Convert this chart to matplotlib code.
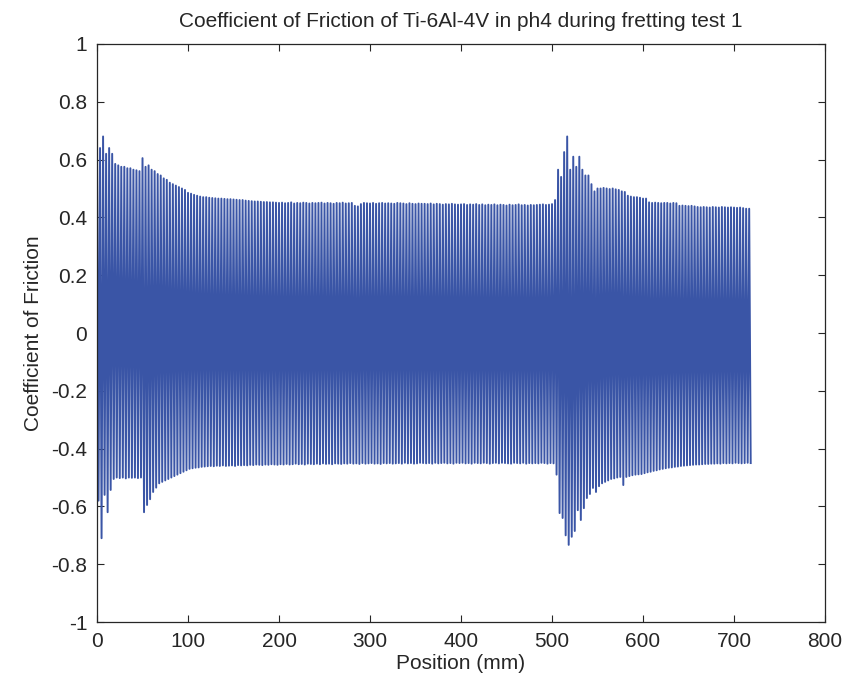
import matplotlib
matplotlib.use("Agg")
import matplotlib.pyplot as plt
from matplotlib.ticker import FormatStrFormatter
import numpy as np

# one fretting cycle every 10/3 mm: peak friction on the forward stroke,
# trough on the return stroke
cycle_pitch = 10.0 / 3.0

peak_cof = [
    0.67, 0.64, 0.68, 0.62, 0.64, 0.62, 0.585, 0.58, 0.575, 0.575, 0.57, 0.57,
    0.565, 0.563, 0.56, 0.605, 0.575, 0.58, 0.565, 0.56, 0.55, 0.545, 0.535, 0.53,
    0.52, 0.515, 0.51, 0.505, 0.5, 0.495, 0.485, 0.482, 0.478, 0.475, 0.472, 0.47,
    0.47, 0.468, 0.467, 0.466, 0.465, 0.465, 0.464, 0.463, 0.463, 0.462, 0.461, 0.46,
    0.46, 0.458, 0.457, 0.456, 0.455, 0.455, 0.454, 0.453, 0.453, 0.452, 0.452, 0.451,
    0.45, 0.451, 0.449, 0.45, 0.452, 0.448, 0.45, 0.449, 0.451, 0.45, 0.448, 0.45,
    0.449, 0.45, 0.451, 0.448, 0.45, 0.449, 0.447, 0.45, 0.449, 0.451, 0.448, 0.449,
    0.45, 0.44, 0.438, 0.446, 0.45, 0.449, 0.448, 0.45, 0.447, 0.449, 0.45, 0.448,
    0.449, 0.448, 0.447, 0.45, 0.449, 0.448, 0.446, 0.449, 0.447, 0.446, 0.448, 0.447,
    0.447, 0.446, 0.448, 0.445, 0.447, 0.446, 0.444, 0.446, 0.445, 0.447, 0.445, 0.444,
    0.445, 0.446, 0.443, 0.445, 0.444, 0.446, 0.443, 0.445, 0.442, 0.444, 0.443, 0.445,
    0.442, 0.444, 0.443, 0.441, 0.444, 0.442, 0.443, 0.445, 0.442, 0.443, 0.441, 0.443,
    0.442, 0.443, 0.444, 0.445, 0.443, 0.444, 0.446, 0.46, 0.565, 0.54, 0.626, 0.68,
    0.565, 0.61, 0.575, 0.61, 0.565, 0.545, 0.545, 0.515, 0.49, 0.50, 0.50, 0.502,
    0.50, 0.498, 0.50, 0.497, 0.495, 0.49, 0.488, 0.475, 0.472, 0.47, 0.47, 0.468,
    0.465, 0.465, 0.452, 0.45, 0.451, 0.45, 0.449, 0.45, 0.45, 0.448, 0.45, 0.449,
    0.44, 0.441, 0.44, 0.439, 0.44, 0.438, 0.436, 0.435, 0.436, 0.435, 0.434, 0.436,
    0.435, 0.434, 0.436, 0.435, 0.434, 0.435, 0.434, 0.433, 0.434, 0.432, 0.43, 0.43,
]

trough_cof = [
    -0.58, -0.71, -0.56, -0.62, -0.543, -0.505, -0.50, -0.502, -0.50, -0.503, -0.50, -0.501,
    -0.50, -0.502, -0.50, -0.62, -0.595, -0.575, -0.55, -0.535, -0.52, -0.515, -0.51, -0.505,
    -0.50, -0.495, -0.49, -0.485, -0.48, -0.475, -0.47, -0.468, -0.466, -0.465, -0.463, -0.462,
    -0.461, -0.46, -0.461, -0.459, -0.46, -0.458, -0.46, -0.459, -0.458, -0.46, -0.457, -0.458,
    -0.457, -0.458, -0.456, -0.457, -0.455, -0.456, -0.457, -0.455, -0.456, -0.454, -0.455, -0.456,
    -0.454, -0.455, -0.453, -0.455, -0.454, -0.452, -0.454, -0.453, -0.455, -0.452, -0.453, -0.454,
    -0.452, -0.454, -0.451, -0.453, -0.452, -0.454, -0.451, -0.452, -0.453, -0.451, -0.452, -0.45,
    -0.452, -0.451, -0.453, -0.45, -0.452, -0.451, -0.45, -0.452, -0.451, -0.453, -0.45, -0.451,
    -0.45, -0.452, -0.451, -0.45, -0.452, -0.449, -0.451, -0.45, -0.452, -0.451, -0.449, -0.45,
    -0.451, -0.45, -0.452, -0.449, -0.451, -0.45, -0.449, -0.451, -0.45, -0.452, -0.449, -0.45,
    -0.449, -0.451, -0.45, -0.452, -0.449, -0.45, -0.451, -0.449, -0.45, -0.452, -0.45, -0.449,
    -0.451, -0.449, -0.45, -0.451, -0.452, -0.449, -0.45, -0.451, -0.449, -0.452, -0.45, -0.451,
    -0.45, -0.451, -0.449, -0.45, -0.452, -0.45, -0.451, -0.49, -0.623, -0.64, -0.70, -0.733,
    -0.705, -0.685, -0.613, -0.647, -0.606, -0.571, -0.557, -0.536, -0.55, -0.53, -0.52, -0.515,
    -0.51, -0.505, -0.503, -0.50, -0.498, -0.526, -0.498, -0.495, -0.492, -0.49, -0.489, -0.488,
    -0.485, -0.482, -0.48, -0.477, -0.475, -0.472, -0.47, -0.468, -0.466, -0.465, -0.463, -0.462,
    -0.46, -0.459, -0.458, -0.457, -0.456, -0.455, -0.455, -0.454, -0.453, -0.453, -0.452, -0.452,
    -0.451, -0.452, -0.45, -0.451, -0.45, -0.451, -0.449, -0.45, -0.451, -0.45, -0.449, -0.45,
]

x_ticks = [0, 100, 200, 300, 400, 500, 600, 700, 800]
y_ticks = [-1, -0.8, -0.6, -0.4, -0.2, 0, 0.2, 0.4, 0.6, 0.8, 1]

# interleave forward/return strokes into one trace
n = len(peak_cof)
position = np.empty(2 * n)
cof = np.empty(2 * n)
position[0::2] = np.arange(n) * cycle_pitch
position[1::2] = np.arange(n) * cycle_pitch + cycle_pitch / 2
cof[0::2] = peak_cof
cof[1::2] = trough_cof

plt.rcParams['font.family'] = ['Liberation Sans', 'DejaVu Sans']
plt.rcParams['axes.unicode_minus'] = False
text_color = '#262626'

fig = plt.figure(figsize=(8.48, 6.84), dpi=100)
ax = fig.add_axes([0.1144, 0.0906, 0.9729 - 0.1144, 0.9357 - 0.0906])

ax.plot(position, cof, color='#3a55a6', linewidth=1.4)

ax.set_xlim(0, 800)
ax.set_ylim(-1, 1)
ax.set_xticks(x_ticks)
ax.set_yticks(y_ticks)
ax.yaxis.set_major_formatter(FormatStrFormatter('%g'))
ax.tick_params(direction='in', length=5, width=0.8, top=True, right=True,
               labelsize=15, colors=text_color, pad=7)
for s in ax.spines.values():
    s.set_color(text_color)
    s.set_linewidth(0.9)

ax.set_title('Coefficient of Friction of Ti-6Al-4V in ph4 during fretting test 1',
             fontsize=15, color=text_color, pad=12)
ax.set_xlabel('Position (mm)', fontsize=15, color=text_color, labelpad=2)
ax.set_ylabel('Coefficient of Friction', fontsize=15, color=text_color, labelpad=6)

fig.savefig('out.png', dpi=100)
